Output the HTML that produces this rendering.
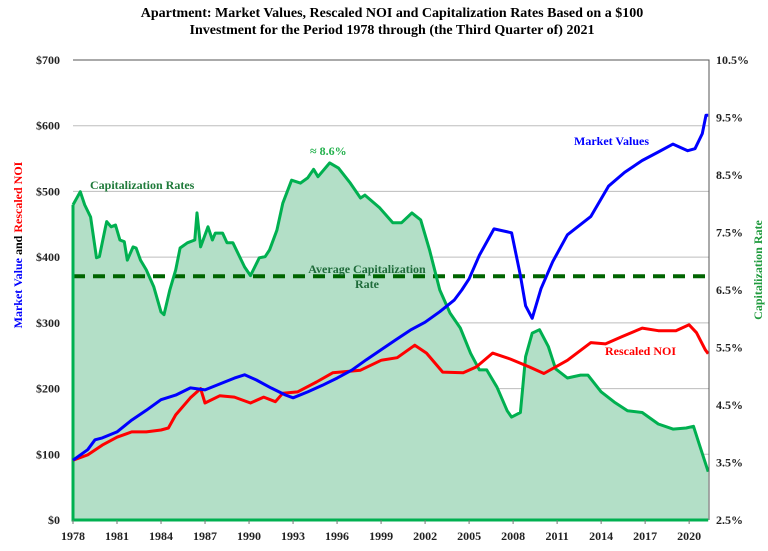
<!DOCTYPE html>
<html><head><meta charset="utf-8"><style>
body{margin:0;background:#fff;}
svg text{font-family:"Liberation Serif",serif;font-weight:bold;}
</style></head><body>
<svg width="768" height="546" viewBox="0 0 768 546" xmlns="http://www.w3.org/2000/svg">
<text x="392" y="17" font-size="14" text-anchor="middle" fill="#000">Apartment: Market Values, Rescaled NOI and Capitalization Rates Based on a $100</text>
<text x="392" y="34" font-size="14" text-anchor="middle" fill="#000">Investment for the Period 1978 through (the Third Quarter of) 2021</text>
<g id="grid"></g>
<g id="area"></g>
<g id="lines"></g>
<g id="axes"></g>
<text x="90" y="189" font-size="12" fill="#1f7a3a">Capitalization Rates</text>
<text x="310" y="155" font-size="12" fill="#22b14c">≈ 8.6%</text>
<text x="367" y="273" font-size="12" text-anchor="middle" fill="#1f6b3a">Average Capitalization</text>
<text x="367" y="288" font-size="12" text-anchor="middle" fill="#1f6b3a">Rate</text>
<text x="574" y="145" font-size="12" fill="#0000ff">Market Values</text>
<text x="605" y="355" font-size="12" fill="#ff0000">Rescaled NOI</text>
<text transform="translate(22,245) rotate(-90)" font-size="12" text-anchor="middle"><tspan fill="#0000ff">Market Value</tspan><tspan fill="#000"> and </tspan><tspan fill="#ff0000">Rescaled NOI</tspan></text>
<text transform="translate(762,270) rotate(-90)" font-size="12" text-anchor="middle" fill="#1e9a3c">Capitalization Rate</text>
</svg>
<script>
const mvT=[1978,1979,1979.5,1980,1981,1982,1983,1984,1985,1986,1987,1988,1989,1989.7,1990.5,1991.5,1992.5,1993,1994,1995,1996,1997,1998,1999,2000,2001,2002,2003,2004,2004.5,2005,2005.7,2006.7,2007.9,2008.5,2008.85,2009.3,2009.9,2010.7,2011.7,2013.3,2014.5,2015.6,2016.8,2017.9,2018.9,2019.9,2020.4,2020.9,2021.15,2021.3];
const mvV=[91,107,122,125,134,152,167,183,190,201,198,207,216,221,213,201,190,186,195,205,216,228,244,259,274,289,301,317,335,350,367,403,443,437,372,326,307,352,393,434,462,508,529,547,560,572,562,565,588,616,616];
const noiT=[1978,1979,1980,1981,1982,1983,1984,1984.5,1985,1986,1986.7,1987,1988,1989,1990.1,1991,1991.8,1992.3,1993.3,1994.6,1995.7,1997.6,1999,2000.1,2001.3,2002.1,2003.2,2004.6,2005.5,2006.6,2007.8,2009.1,2010.1,2011.7,2013.3,2014.3,2015.4,2016.8,2017.9,2019.1,2020,2020.5,2021.1,2021.3];
const noiV=[91,99,114,126,134,134,137,140,160,186,200,178,189,187,178,187,180,193,195,210,224,228,243,247,266,254,225,224,233,254,245,233,223,243,270,268,279,292,288,288,297,285,259,253];
const capT=[1978,1978.5,1978.8,1979.2,1979.6,1979.8,1980.2,1980.3,1980.6,1980.9,1981.2,1981.5,1981.7,1982.1,1982.3,1982.6,1983,1983.5,1984,1984.2,1984.6,1985,1985.3,1985.8,1986.3,1986.45,1986.7,1987.2,1987.5,1987.7,1988.2,1988.5,1988.9,1989.7,1990.1,1990.7,1991.1,1991.4,1991.9,1992.3,1992.9,1993.5,1994,1994.4,1994.7,1995.5,1996.1,1996.9,1997.6,1997.9,1998.9,1999.8,2000.4,2001.1,2001.7,2002.3,2003,2003.7,2004.4,2005.1,2005.7,2006.2,2006.9,2007.6,2007.9,2008.5,2008.85,2009.3,2009.8,2010.4,2010.9,2011.7,2012.6,2013.1,2014,2014.9,2015.8,2016.8,2017.9,2018.9,2019.8,2020.3,2020.7,2021.3];
const capV=[7.98,8.21,7.98,7.77,7.06,7.08,7.58,7.69,7.6,7.63,7.37,7.34,7.02,7.25,7.23,7.02,6.85,6.56,6.12,6.07,6.5,6.85,7.23,7.32,7.37,7.84,7.25,7.6,7.37,7.49,7.49,7.32,7.32,6.9,6.75,7.06,7.08,7.2,7.54,8.01,8.41,8.36,8.45,8.6,8.47,8.71,8.62,8.36,8.1,8.15,7.93,7.67,7.67,7.84,7.72,7.2,6.5,6.1,5.84,5.4,5.11,5.11,4.81,4.4,4.29,4.37,5.34,5.75,5.81,5.52,5.13,4.97,5.02,5.02,4.73,4.55,4.4,4.37,4.17,4.08,4.1,4.13,3.81,3.34];
const avgCap=[6.74];
const xTicks=[1978,1981,1984,1987,1990,1993,1996,1999,2002,2005,2008,2011,2014,2017,2020];
const yTicks=[0,100,200,300,400,500,600,700];
const rTicks=[2.5,3.5,4.5,5.5,6.5,7.5,8.5,9.5,10.5];

const L=73,R=709,T=60,B=520;
const x=t=>L+(t-1978)*14.67;
const y=v=>B-(v/700)*(B-T);
const yr=c=>B-((c-2.5)/8)*(B-T);
const NS='http://www.w3.org/2000/svg';
function mk(tag,attrs,parent){const e=document.createElementNS(NS,tag);for(const k in attrs)e.setAttribute(k,attrs[k]);parent.appendChild(e);return e;}
const grid=document.getElementById('grid'),area=document.getElementById('area'),lines=document.getElementById('lines'),axes=document.getElementById('axes');
yTicks.forEach(v=>{if(v>0&&v<700){const g=mk('line',{x1:L,x2:R,y1:y(v),y2:y(v),stroke:'#bdbdbd','stroke-width':1},grid);

}});
// area
let d='M'+x(capT[0])+','+B;capT.forEach((t,i)=>{d+=' L'+x(t).toFixed(1)+','+yr(capV[i]).toFixed(1);});d+=' L'+x(capT[capT.length-1]).toFixed(1)+','+B+' Z';
const a=mk('path',{d:d,fill:'#b3dfc7',stroke:'none'},area);


function line(T_,V_,f,color,name){let p='';T_.forEach((t,i)=>{p+=(i?' L':'M')+x(t).toFixed(1)+','+f(V_[i]).toFixed(1);});
const e=mk('path',{d:p,fill:'none',stroke:color,'stroke-width':3,'stroke-linejoin':'round'},lines);

}
const avg=mk('line',{x1:L,x2:R-2,y1:yr(avgCap[0]),y2:yr(avgCap[0]),stroke:'#006400','stroke-width':4,'stroke-dasharray':'12,8'},lines);


line(capT,capV,yr,'#00b050','cap-rate-line');
const edge=mk('path',{d:'M'+L+','+yr(capV[0])+' L'+L+','+B+' L'+x(capT[capT.length-1])+','+B,fill:'none',stroke:'#00b050','stroke-width':3},lines);


line(noiT,noiV,y,'#ff0000','rescaled-noi-line');
line(mvT,mvV,y,'#0000ff','market-value-line');
// frame
const fr=mk('path',{d:'M'+L+','+T+' L'+R+','+T+' L'+R+','+B,fill:'none',stroke:'#555','stroke-width':1},axes);


yTicks.forEach(v=>{const t=mk('text',{x:60,y:y(v)+4,'font-size':12,'text-anchor':'end',fill:'#222'},axes);t.textContent='$'+v;

});
rTicks.forEach(v=>{const t=mk('text',{x:716,y:yr(v)+4,'font-size':12,fill:'#222'},axes);t.textContent=v.toFixed(1)+'%';

});
xTicks.forEach(v=>{const tk=mk('line',{x1:x(v),x2:x(v),y1:B,y2:B+4,stroke:'#777'},axes);


const t=mk('text',{x:x(v),y:540,'font-size':12,'text-anchor':'middle',fill:'#222'},axes);t.textContent=v;

});
</script>
</body></html>
